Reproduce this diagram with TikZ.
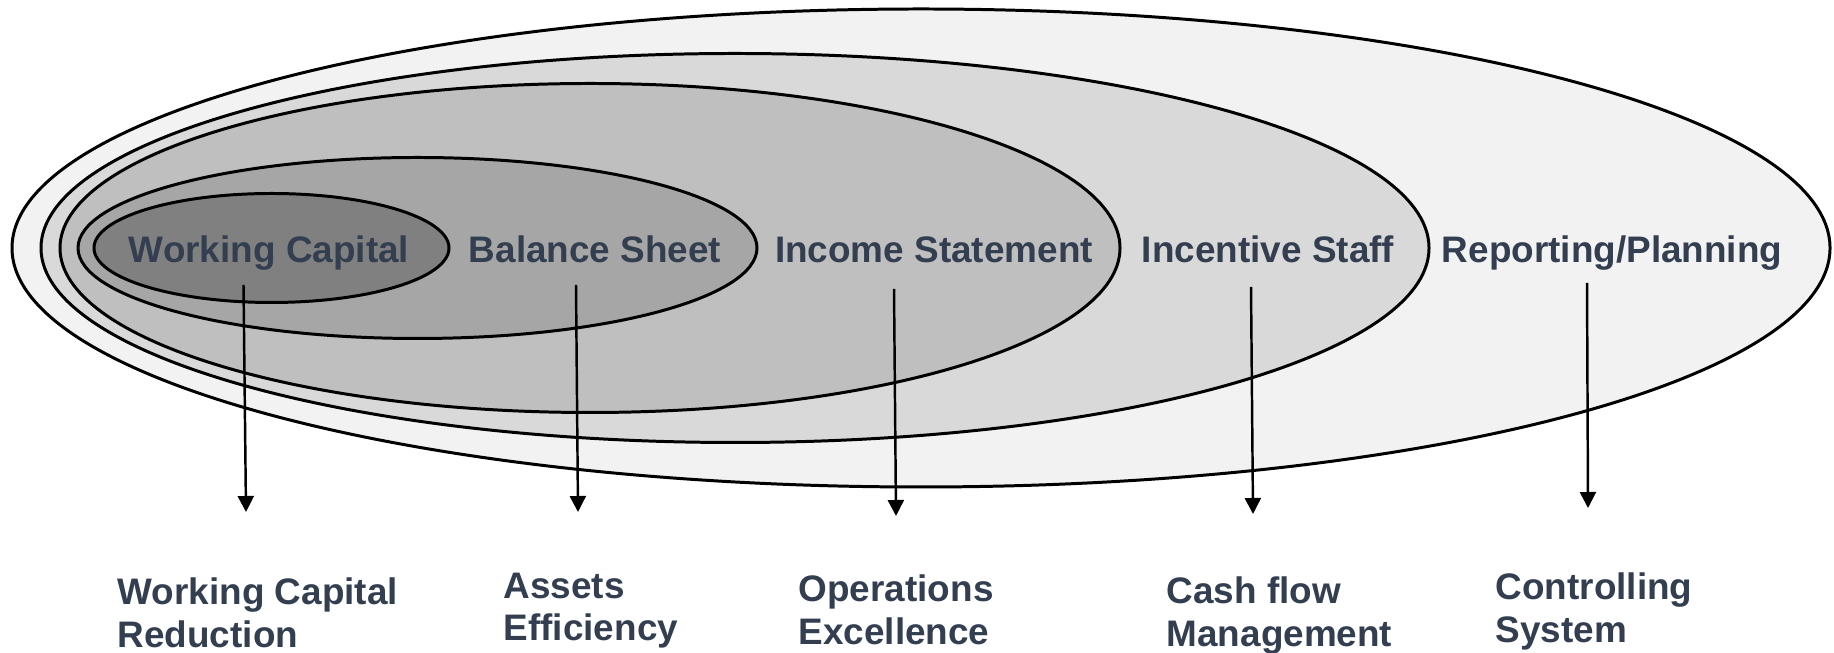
\documentclass[tikz,border=0pt]{standalone}
\usepackage{fontspec}
\setmainfont{Liberation Sans}
\usepackage{tikz}
\usetikzlibrary{arrows.meta}

\definecolor{textslate}{RGB}{51,63,80}
\definecolor{ringA}{RGB}{242,242,242}
\definecolor{ringB}{RGB}{217,217,217}
\definecolor{ringC}{RGB}{191,191,191}
\definecolor{ringD}{RGB}{166,166,166}
\definecolor{ringE}{RGB}{128,128,128}

\tikzset{
    ring/.style={draw=black, line width=0.85pt},
    lbl/.style={font=\fontsize{10.5}{12.2}\selectfont\bfseries, text=textslate, inner sep=0pt},
    goal/.style={lbl, align=left, anchor=north west},
    pointer/.style={line width=0.7pt, -{Triangle[length=0.16cm,width=0.16cm]}}
}

\begin{document}
\begin{tikzpicture}
                \useasboundingbox (0,0) rectangle (18.34,6.53);
                 % nested rings, largest first
                 \filldraw[ring, fill=ringA] (9.21,4.05) ellipse (9.09cm and 2.39cm);
                 \filldraw[ring, fill=ringB] (7.35,4.05) ellipse (6.94cm and 1.945cm);
                 \filldraw[ring, fill=ringC] (5.90,4.05) ellipse (5.30cm and 1.645cm);
                 \filldraw[ring, fill=ringD] (4.175,4.05) ellipse (3.395cm and 0.905cm);
                 \filldraw[ring, fill=ringE] (2.715,4.05) ellipse (1.775cm and 0.545cm);

                 % ring labels
                 \node[lbl, anchor=base] (wc) at (2.69,3.90) {Working Capital};
                 \node[lbl, anchor=base] (bs) at (5.95,3.90) {Balance Sheet};
                 \node[lbl, anchor=base] (is) at (9.34,3.90) {Income Statement};
                 \node[lbl, anchor=base] (st) at (12.68,3.90) {Incentive Staff};
                 \node[lbl, anchor=base] (rp) at (16.12,3.90) {Reporting/Planning};

                 % what each ring leads to
                 \node[goal] (wcr) at (1.17,0.76) {Working Capital\\Reduction};
                 \node[goal] (ae) at (5.03,0.81) {Assets\\Efficiency};
                 \node[goal] (oe) at (7.98,0.79) {Operations\\Excellence};
                 \node[goal] (cm) at (11.66,0.77) {Cash flow\\Management};
                 \node[goal] (cs) at (14.95,0.81) {Controlling\\System};

                 % arrow ends
                 \coordinate (wc-a) at (2.435,3.68);  \coordinate (wc-b) at (2.46,1.41);
                 \coordinate (bs-a) at (5.76,3.68);   \coordinate (bs-b) at (5.78,1.41);
                 \coordinate (is-a) at (8.94,3.64);   \coordinate (is-b) at (8.96,1.37);
                 \coordinate (st-a) at (12.51,3.66);  \coordinate (st-b) at (12.53,1.39);
                 \coordinate (rp-a) at (15.87,3.70);  \coordinate (rp-b) at (15.88,1.45);

                 \foreach \r in {wc,bs,is,st,rp}
                     \draw[pointer] (\r-a) -- (\r-b);
            \end{tikzpicture}
\end{document}
